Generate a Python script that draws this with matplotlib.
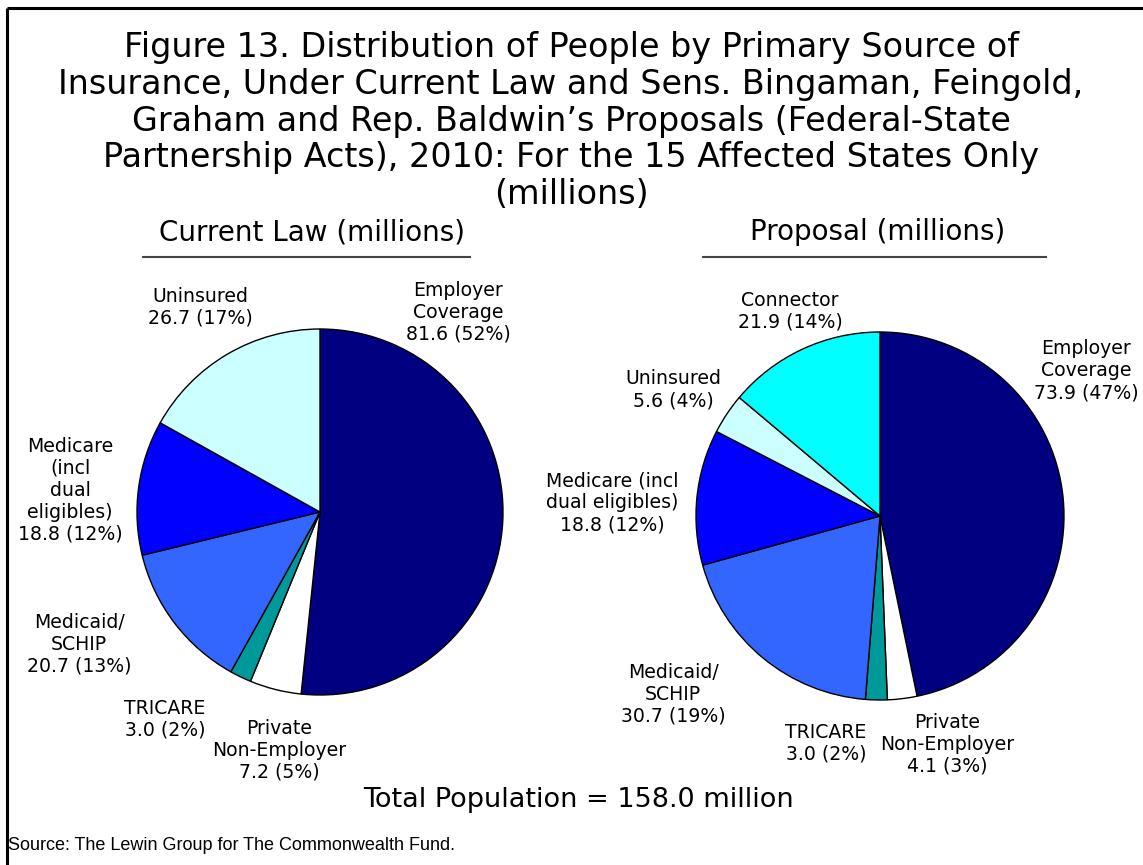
import matplotlib.pyplot as plt

# data (millions)
categories_current = ['Employer\nCoverage', 'Private\nNon-Employer', 'TRICARE',
                      'Medicaid/\nSCHIP', 'Medicare\n(incl\ndual\neligibles)', 'Uninsured']
values_current = [81.6, 7.2, 3.0, 20.7, 18.8, 26.7]
colors_current = ['#000080', '#FFFFFF', '#009999', '#3366FF', '#0000FF', '#CCFFFF']

categories_proposal = ['Employer\nCoverage', 'Private\nNon-Employer', 'TRICARE',
                       'Medicaid/\nSCHIP', 'Medicare (incl\ndual eligibles)', 'Uninsured', 'Connector']
values_proposal = [73.9, 4.1, 3.0, 30.7, 18.8, 5.6, 21.9]
colors_proposal = ['#000080', '#FFFFFF', '#009999', '#3366FF', '#0000FF', '#CCFFFF', '#00FFFF']

# label anchor positions in pixels (x, y from top)
label_pos_current = [(458, 312), (279, 750), (165, 719), (79, 644), (70, 490), (200, 307)]
label_pos_proposal = [(1086, 371), (947, 744), (826, 743), (673, 694), (612, 503), (673, 390), (790, 311)]

W, H = 1143, 865
fig = plt.figure(figsize=(W / 100, H / 100), dpi=100)
ax = fig.add_axes([0, 0, 1, 1])

font = 'DejaVu Sans'


def draw_pie(values, colors, labels, positions, cx, cy, r):
    ax.pie(values, colors=colors, startangle=90, counterclock=False,
           center=(cx, H - cy), radius=r,
           wedgeprops=dict(edgecolor='black', linewidth=1.0))
    total = sum(values)
    for v, lab, (px, py) in zip(values, labels, positions):
        txt = f'{lab}\n{v:.1f} ({v / total * 100:.0f}%)'
        ax.text(px, H - py, txt, ha='center', va='center', fontsize=13.6,
                family=font, linespacing=1.2)


draw_pie(values_current, colors_current, categories_current, label_pos_current, 320, 512, 183)
draw_pie(values_proposal, colors_proposal, categories_proposal, label_pos_proposal, 880, 516, 184)

ax.set_xlim(0, W)
ax.set_ylim(0, H)
ax.set_aspect('equal')
ax.axis('off')

title = ('Figure 13. Distribution of People by Primary Source of\n'
         'Insurance, Under Current Law and Sens. Bingaman, Feingold,\n'
         "Graham and Rep. Baldwin\u2019s Proposals (Federal-State\n"
         'Partnership Acts), 2010: For the 15 Affected States Only\n'
         '(millions)')
ax.text(571, H - 121, title, ha='center', va='center', fontsize=24,
        family=font, linespacing=1.15)

ax.text(312, H - 232, 'Current Law (millions)', ha='center', va='center',
        fontsize=20, family=font)
ax.text(878, H - 232, 'Proposal (millions)', ha='center', va='center',
        fontsize=20, family=font)
ax.plot([143, 470], [H - 257, H - 257], color='#444444', lw=1.5)
ax.plot([703, 1046], [H - 257, H - 257], color='#444444', lw=1.5)

ax.text(578, H - 800, 'Total Population = 158.0 million', ha='center', va='center',
        fontsize=19.5, family=font)
ax.text(8, H - 846, 'Source: The Lewin Group for The Commonwealth Fund.', ha='left',
        va='center', fontsize=13, family='Liberation Sans')

# frame: top and left edges
ax.plot([6.5, W], [H - 7.5, H - 7.5], color='black', lw=2.2, solid_capstyle='butt')
ax.plot([6.5, 6.5], [0, H - 7.5], color='black', lw=2.2, solid_capstyle='butt')

fig.savefig('out.png', dpi=100)
